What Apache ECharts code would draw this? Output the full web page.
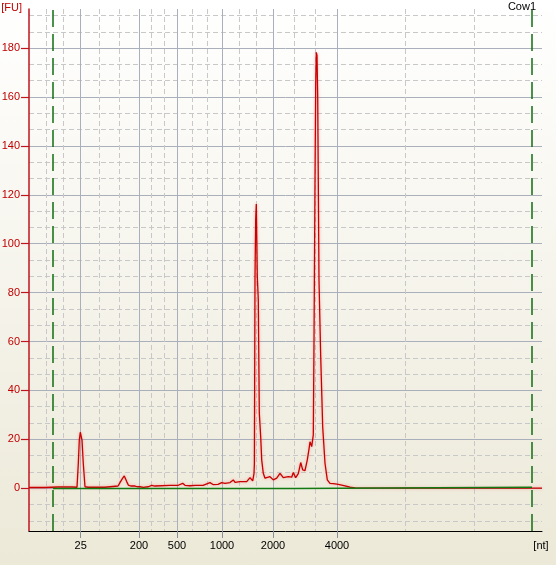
<!DOCTYPE html>
<html><head><meta charset="utf-8">
<script src="https://cdn.jsdelivr.net/npm/echarts@6/dist/echarts.min.js"></script>
<style>
html,body{margin:0;padding:0;}
body{background:linear-gradient(to bottom,#FFFFFF 0%,#ECE9D8 100%);width:556px;height:565px;overflow:hidden;}
#c{width:556px;height:565px;}
</style>
</head><body><div id="c"></div>
<script>
// x axis: migration time [s]; ladder fragment sizes label the time positions
const ladderSizes = [25, 200, 500, 1000, 2000, 4000];
const ladderTimes = [22.17, 28.0, 31.8, 36.3, 41.4, 47.8];
const minorTimes = [18.77, 20.4, 24.05, 26.0, 29.27, 30.53, 33.3, 34.8, 38.0, 39.75, 43.5, 45.65, 54.6, 61.5];
const markerTimes = [19.4, 67.3];
const timeMin = 17.0, timeMax = 68.3;
const xUnitLabel = '[nt]';

const yTicks = [0, 20, 40, 60, 80, 100, 120, 140, 160, 180];
const yMinor = [-13.33,-6.67,6.67,13.33,26.67,33.33,46.67,53.33,66.67,73.33,86.67,93.33,106.67,113.33,126.67,133.33,146.67,153.33,166.67,173.33,186.67,193.33];
const yMin = -17.5, yMax = 196;

// sample electropherogram (time [s], fluorescence [FU])
const traceTime = [17.0,17.2,17.4,18.6,19.9,20.1,21.3,21.5,21.8,21.93,22.03,22.13,22.2,22.3,22.43,22.6,22.9,24.6,24.7,25.9,26.2,26.37,26.53,26.6,26.77,26.93,27.17,27.37,27.6,27.83,28.1,28.43,28.93,29.27,29.6,31.1,31.27,31.6,31.93,32.37,32.6,33.1,33.6,34.4,35.1,35.4,35.9,36.27,36.6,37.1,37.43,37.6,38.1,38.77,39.1,39.37,39.5,39.54,39.6,39.67,39.73,39.78,39.83,39.93,40.03,40.17,40.27,40.43,40.6,40.77,41.1,41.43,41.77,42.1,42.43,42.93,43.27,43.43,43.67,43.93,44.17,44.37,44.6,44.83,45.0,45.1,45.27,45.43,45.5,45.6,45.67,45.73,45.8,45.87,45.93,46.0,46.17,46.37,46.6,46.83,47.1,47.43,47.93,48.6,49.1,49.6,54.1,58.8,58.9,59.0,65.0,65.1,65.2,65.5,65.6,65.7,66.2,66.3,66.4,68.3];
const traceFU = [0.3,0.5,0.3,0.3,0.5,0.3,0.5,0.3,0.4,10,19.7,22.9,22.9,19.7,10,0.6,0.4,0.4,0.9,0.9,3.0,4.1,5.0,5.2,2.7,1.3,0.9,1.6,0.9,0.6,0.6,0.3,0.6,1.2,0.9,1.2,1.6,1.2,1.2,2.0,1.2,1.0,1.2,1.2,2.3,1.5,1.6,2.3,2.0,2.3,3.4,2.4,2.7,2.7,4.3,3.0,6,10,86.5,110,116.2,116,86.5,77,30.8,21,11.6,6.1,4.1,3.4,4.7,3.4,4.1,6.1,4.3,4.7,4.5,6.4,4.3,6,10.5,7.5,7.2,11.6,16,19,17,21.8,60,126,165,178.3,177,160,126,85,54,25,10.2,3.4,2.0,1.9,1.6,1.0,0.4,0.1,0,0,-0.4,0,0,-0.3,0,0,-0.3,0,0,-0.3,0,0];

const baselineTime = [19.4, 43.4, 43.4, 67.3];
const baselineFU = [-0.1, -0.1, 0.4, 0.4];

const sampleName = 'Cow1';
const yName = '[FU]';

const chart = echarts.init(document.getElementById('c'));
const trace = traceTime.map((t, i) => [t, traceFU[i]]);
const baseline = baselineTime.map((t, i) => [t, baselineFU[i]]);
const labelFont = 'Liberation Sans, Arial, sans-serif';

chart.setOption({
  animation: false,
  backgroundColor: 'transparent',
  title: {
    text: sampleName, right: 20, top: 1, padding: 0,
    textStyle: {fontSize: 11, fontWeight: 'normal', color: '#000', fontFamily: labelFont}
  },
  grid: {left: 29, right: 14, top: 9, bottom: 34, containLabel: false, outerBoundsMode: 'none'},
  xAxis: [{
    type: 'value', min: timeMin, max: timeMax, position: 'bottom',
    axisLine: {onZero: false, lineStyle: {color: '#000', width: 1}},
    axisTick: {show: true, customValues: ladderTimes, length: 7, inside: false, lineStyle: {color: '#8A9099'}},
    axisLabel: {
      customValues: ladderTimes.concat([timeMax - 0.1]), margin: 9,
      color: '#000', fontSize: 11, fontFamily: labelFont,
      formatter: v => {
        const i = ladderTimes.findIndex(t => Math.abs(t - v) < 1e-6);
        return i >= 0 ? String(ladderSizes[i]) : xUnitLabel;
      }
    },
    splitLine: {show: true, lineStyle: {color: '#A9B0BC', width: 1}}
  }, {
    type: 'value', min: timeMin, max: timeMax, position: 'bottom',
    axisLine: {show: false, onZero: false},
    axisTick: {show: false, customValues: minorTimes},
    axisLabel: {show: false},
    splitLine: {show: true, lineStyle: {color: '#C8C8C8', width: 1, type: [5, 3]}}
  }],
  yAxis: [{
    type: 'value', min: yMin, max: yMax, position: 'left',
    name: yName, nameLocation: 'end', nameGap: 1,
    nameTextStyle: {color: '#C00000', fontSize: 11, fontFamily: labelFont, align: 'right', verticalAlign: 'middle', padding: [0, 7, 0, 0]},
    axisLine: {show: true, onZero: false, lineStyle: {color: '#C0141E', width: 1.5}},
    axisTick: {show: true, customValues: yTicks, length: 8, lineStyle: {color: '#C0141E', width: 1.2}},
    axisLabel: {customValues: yTicks, margin: 9, color: '#C00000', fontSize: 11, fontFamily: labelFont},
    splitLine: {show: true, lineStyle: {color: '#A9B0BC', width: 1}}
  }, {
    type: 'value', min: yMin, max: yMax, position: 'left',
    axisLine: {show: false, onZero: false},
    axisTick: {show: false, customValues: yMinor},
    axisLabel: {show: false},
    splitLine: {show: true, lineStyle: {color: '#C8C8C8', width: 1, type: [5, 3]}}
  }],
  series: [{
    type: 'line', data: trace, xAxisIndex: 0, yAxisIndex: 0,
    showSymbol: false, symbol: 'none', z: 3,
    lineStyle: {color: '#C80000', width: 1.3, shadowColor: 'rgba(255,90,90,0.5)', shadowBlur: 3}
  }, {
    type: 'line', data: baseline, xAxisIndex: 0, yAxisIndex: 0,
    showSymbol: false, symbol: 'none', z: 4,
    lineStyle: {color: '#137A13', width: 1.5},
    markLine: {
      silent: true, symbol: 'none', label: {show: false},
      lineStyle: {color: '#0F6E0F', width: 1.5, type: [17, 7]},
      data: markerTimes.map(t => ({xAxis: t}))
    }
  }]
});
</script>
</body></html>
